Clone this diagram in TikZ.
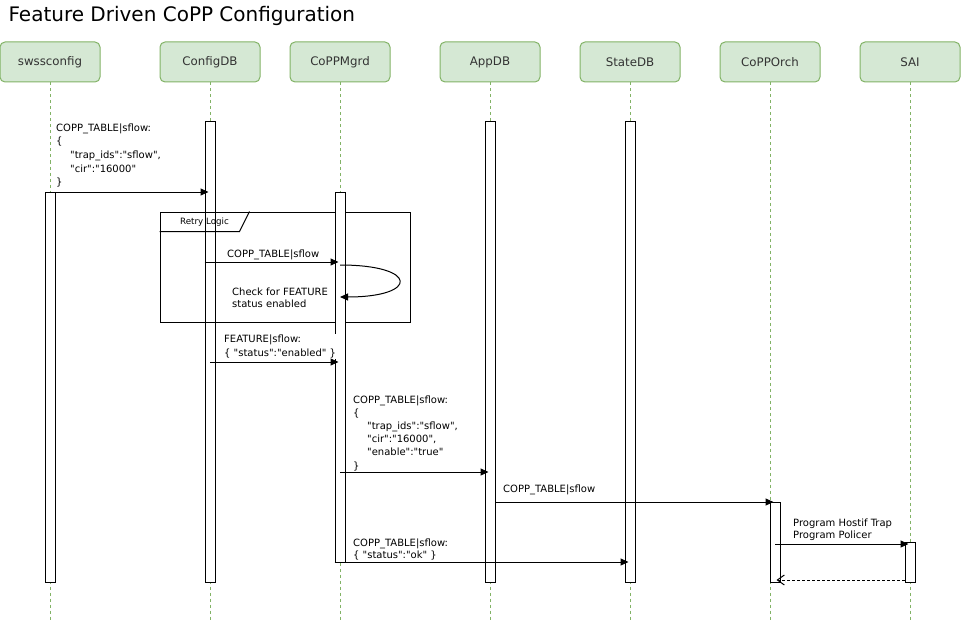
\documentclass[tikz,border=0pt]{standalone}
\usepackage{fontspec}
\setmainfont{DejaVu Sans}
\usetikzlibrary{arrows.meta,positioning}
\definecolor{headfill}{HTML}{D5E8D4}
\definecolor{headline}{HTML}{82B366}
\newcommand{\dq}{\textquotedbl}

\begin{document}
\begin{tikzpicture}[x=1pt,y=-1pt,>={Triangle[length=8pt,width=7pt]}]
\tikzstyle{head}=[rectangle,rounded corners=5pt,draw=headline,fill=headfill,
line width=1pt,minimum width=100pt,minimum height=40pt,inner sep=0pt,
node distance=140pt,font=\fontsize{11.8}{14}\selectfont,text=black!80]
\tikzstyle{bar}=[rectangle,draw=black,fill=white,line width=1pt,
minimum width=10pt,inner sep=0pt]
\tikzstyle{life}=[draw=headline,line width=1pt,dash pattern=on 3pt off 3pt]
\tikzstyle{msg}=[->,line width=1pt,shorten >=-4pt]
\tikzstyle{lbl}=[anchor=base west,align=left,inner sep=0pt,
font=\fontsize{10}{13.7}\selectfont]

\useasboundingbox (0,0) rectangle (961,623);

\node[anchor=base west,font=\fontsize{20}{24}\selectfont] (title) at (5,21.5) {Feature Driven CoPP Configuration};

% participants
\node[head] at (50,62) (sws) {swssconfig};
\node[head,right of =sws,xshift=20pt] (cfg) {ConfigDB};
\node[head,right of =cfg,xshift=-10pt] (mgr) {CoPPMgrd};
\node[head,right of =mgr,xshift=10pt] (app) {AppDB};
\node[head,right of =app] (state) {StateDB};
\node[head,right of =state] (orch) {CoPPOrch};
\node[head,right of =orch] (sai) {SAI};

\coordinate (bottom) at (0,620);
\draw[life] (sws.south) -- (sws.south |- bottom);
\draw[life] (cfg.south) -- (cfg.south |- bottom);
\draw[life] (mgr.south) -- (mgr.south |- bottom);
\draw[life] (app.south) -- (app.south |- bottom);
\draw[life] (state.south) -- (state.south |- bottom);
\draw[life] (orch.south) -- (orch.south |- bottom);
\draw[life] (sai.south) -- (sai.south |- bottom);

% activations
\node[bar,minimum height=390pt] (swsbar) at (50,387) {};
\node[bar,minimum height=460pt] (cfgbar) at (210,352) {};
\node[bar,minimum height=460pt] (appbar) at (490,352) {};
\node[bar,minimum height=460pt] (statebar) at (630,352) {};
\node[bar,minimum height=80pt] (orchbar) at (775,542) {};
\node[bar,minimum height=40pt] (saibar) at (910,562) {};

% retry frame
\node[draw,line width=1pt,minimum width=250pt,minimum height=110pt,inner sep=0pt] (retry) at (285,267) {};
\draw[line width=1pt] ([yshift=-20pt]retry.north west) -- ++(80,0) -- ++(10,-20);
\node[font=\fontsize{8.7}{10}\selectfont] (retrylbl) at ([xshift=45pt,yshift=-11pt]retry.north west) {Retry Logic};

\node[bar,minimum height=370pt] (mgrbar) at (340,377) {};

% rows
\coordinate (m1) at (0,192);
\coordinate (m2) at (0,262);
\coordinate (lp1) at (0,265);
\coordinate (lp2) at (0,297);
\coordinate (lc1) at (419,265);
\coordinate (lc2) at (419,297);
\coordinate (m4) at (0,362);
\coordinate (m6) at (0,472);
\coordinate (m7) at (0,502);
\coordinate (m9) at (0,544);
\coordinate (m8) at (0,562);
\coordinate (m10) at (0,580);

\node[lbl] (l1) at (56,185.8) {COPP\_TABLE|sflow:\\\{\\\hspace*{14pt}\dq trap\_ids\dq:\dq sflow\dq,\\\hspace*{14pt}\dq cir\dq:\dq 16000\dq\\\}};
\draw[msg] (swsbar.east |- m1) -- (cfgbar.west |- m1);

\node[lbl] (l2) at (227,257.5) {COPP\_TABLE|sflow};
\draw[msg] (cfgbar.west |- m2) -- (mgrbar.west |- m2);

\node[lbl,font=\fontsize{10}{12}\selectfont] (l3) at (232,307.8) {Check for FEATURE\\status enabled};
\draw[->,line width=1pt] (mgrbar.center |- lp1) .. controls (lc1) and (lc2) .. (mgrbar.center |- lp2);

\node[lbl,fill=white,inner sep=1pt] (l4) at (223,356.2) {FEATURE|sflow:\\\{ \dq status\dq:\dq enabled\dq{} \}};
\draw[msg] (cfgbar.center |- m4) -- (mgrbar.west |- m4);

\node[lbl,font=\fontsize{10}{13.1}\selectfont] (l6) at (353,469) {COPP\_TABLE|sflow:\\\{\\\hspace*{14pt}\dq trap\_ids\dq:\dq sflow\dq,\\\hspace*{14pt}\dq cir\dq:\dq 16000\dq,\\\hspace*{14pt}\dq enable\dq:\dq true\dq\\\}};
\draw[msg] (mgrbar.center |- m6) -- (appbar.west |- m6);

\node[lbl] (l7) at (503,492.5) {COPP\_TABLE|sflow};
\draw[msg] (appbar.east |- m7) -- (orchbar.west |- m7);

\node[lbl,font=\fontsize{10}{12.5}\selectfont] (l8) at (353,558.8) {COPP\_TABLE|sflow:\\\{ \dq status\dq:\dq ok\dq{} \}};
\draw[msg] (mgrbar.west |- m8) -- (statebar.west |- m8);

\node[lbl,font=\fontsize{10}{12.3}\selectfont] (l9) at (793,538.5) {Program Hostif Trap\\Program Policer};
\draw[msg] (orchbar.center |- m9) -- (saibar.west |- m9);

\draw[line width=1pt,dash pattern=on 3pt off 2pt,-{Straight Barb[length=7pt,width=10pt]},shorten >=-4pt] (saibar.west |- m10) -- (orchbar.east |- m10);

\end{tikzpicture}
\end{document}
